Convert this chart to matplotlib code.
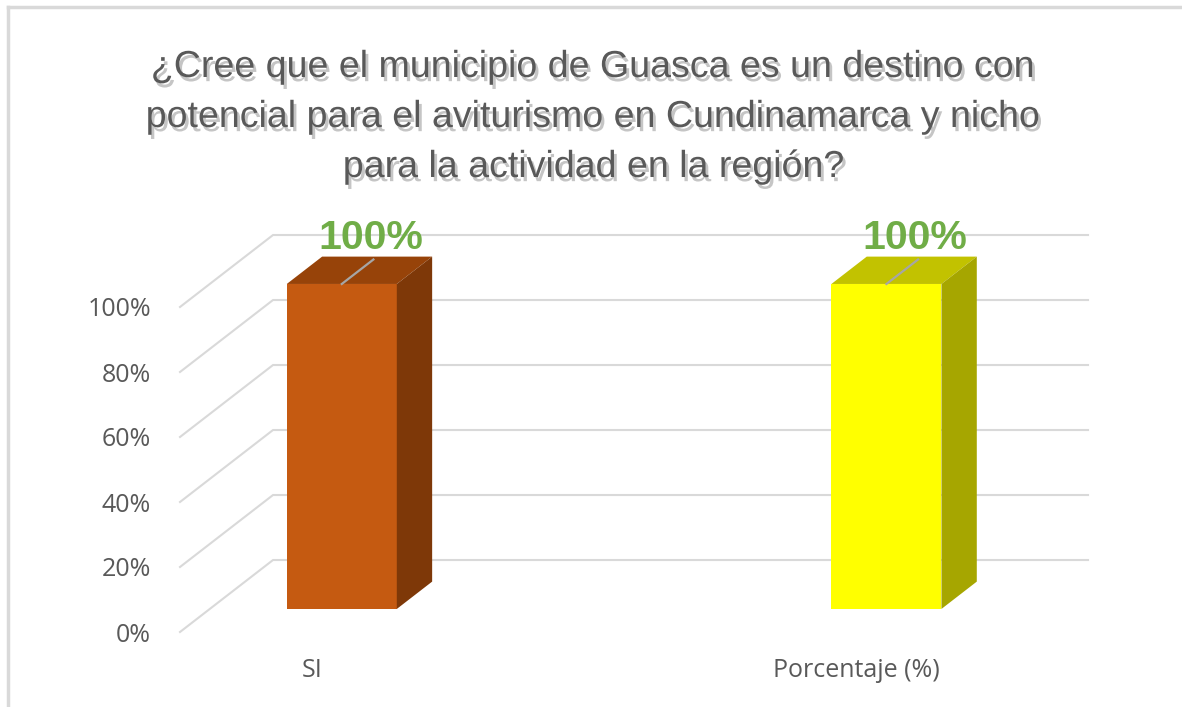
import matplotlib
matplotlib.use("Agg")
import matplotlib.pyplot as plt
import matplotlib.patheffects as pe
from matplotlib.patches import Polygon
from matplotlib.lines import Line2D
from matplotlib import font_manager

# data
categories = ['SI', 'Porcentaje (%)']
values = [1.0, 1.0]
bar_labels = ['100%', '100%']
yticks = [0, 0.2, 0.4, 0.6, 0.8, 1.0]
ytick_labels = ['0%', '20%', '40%', '60%', '80%', '100%']
title = ('¿Cree que el municipio de Guasca es un destino con\n'
         'potencial para el aviturismo en Cundinamarca y nicho\n'
         'para la actividad en la región?')

front_colors = ['#C55A11', '#FFFF00']
top_colors = ['#974309', '#C2C200']
side_colors = ['#7E3808', '#A6A600']

# narrow font if available (Arial Narrow look)
names = {f.name for f in font_manager.fontManager.ttflist}
if 'Liberation Sans Narrow' in names:
    narrow, shrink = 'Liberation Sans Narrow', 1.0
else:
    narrow, shrink = 'Liberation Sans', 0.82

W, H = 1182, 707
fig = plt.figure(figsize=(W / 100, H / 100), dpi=100)
fig.patch.set_facecolor('white')

# chart frame: only top and left edges visible
fig.add_artist(Line2D([7.5 / W, 1], [1 - 6.5 / H, 1 - 6.5 / H],
                      transform=fig.transFigure, color='#d9d9d9', lw=2.5))
fig.add_artist(Line2D([7.5 / W, 7.5 / W], [0, 1 - 6.5 / H],
                      transform=fig.transFigure, color='#d9d9d9', lw=2.5))

ax = fig.add_axes([180 / W, 75 / H, 815 / W, 325 / H])
x0, x1 = -0.2424, 1.254
ax.set_xlim(x0, x1)
ax.set_ylim(0, 1)
for s in ax.spines.values():
    s.set_visible(False)

# 3d depth in data units
dx, dy = 0.1708, 0.2215
f0, f1 = 0.32, 0.70
w = 0.202
grid_c = '#d9d9d9'

# gridlines: floor/side diagonal + back wall line
for v in yticks:
    ax.plot([x0, x0 + dx, x1 + dx], [v, v + dy, v + dy], color=grid_c,
            lw=1.5, clip_on=False, zorder=1)

xpos = list(range(len(categories)))
ax.bar([x + f0 * dx for x in xpos], values, width=w, bottom=f0 * dy,
       color=front_colors, zorder=3, clip_on=False)

for x, v, tc, sc, lab in zip(xpos, values, top_colors, side_colors, bar_labels):
    xl = x - w / 2 + f0 * dx
    xr = x + w / 2 + f0 * dx
    d = (f1 - f0)
    top = Polygon([(xl, v + f0 * dy), (xr, v + f0 * dy),
                   (xr + d * dx, v + f1 * dy), (xl + d * dx, v + f1 * dy)],
                  closed=True, fc=tc, ec='none', zorder=3, clip_on=False)
    side = Polygon([(xr, f0 * dy), (xr + d * dx, f1 * dy),
                    (xr + d * dx, v + f1 * dy), (xr, v + f0 * dy)],
                   closed=True, fc=sc, ec='none', zorder=3, clip_on=False)
    ax.add_patch(top)
    ax.add_patch(side)
    # leader line + data label
    ax.plot([x + f0 * dx, x + 0.66 * dx], [v + f0 * dy, v + 0.66 * dy],
            color='#a6a6a6', lw=1.6, zorder=4, clip_on=False)
    ax.text(x + 0.63 * dx, v + f1 * dy, lab, ha='center', va='bottom',
            fontsize=36 * shrink, fontweight='bold', color='#70AD47',
            family=narrow, zorder=5, clip_on=False)

ax.set_yticks(yticks, ytick_labels)
ax.set_xticks(xpos, categories)
ax.tick_params(axis='y', length=0, pad=21, labelsize=18, labelcolor='#595959')
ax.tick_params(axis='x', length=0, pad=19, labelsize=18, labelcolor='#595959')
for t in ax.get_xticklabels() + ax.get_yticklabels():
    t.set_family('Open Sans')

fig.text(594 / W, 1 - 117 / H, title, ha='center', va='center',
         fontsize=33 * shrink, family=narrow, color='#595959',
         linespacing=1.5,
         path_effects=[pe.SimplePatchShadow(offset=(2, -3), shadow_rgbFace='#7f7f7f', alpha=0.45),
                       pe.Normal()])

fig.savefig('out.png', dpi=100)
